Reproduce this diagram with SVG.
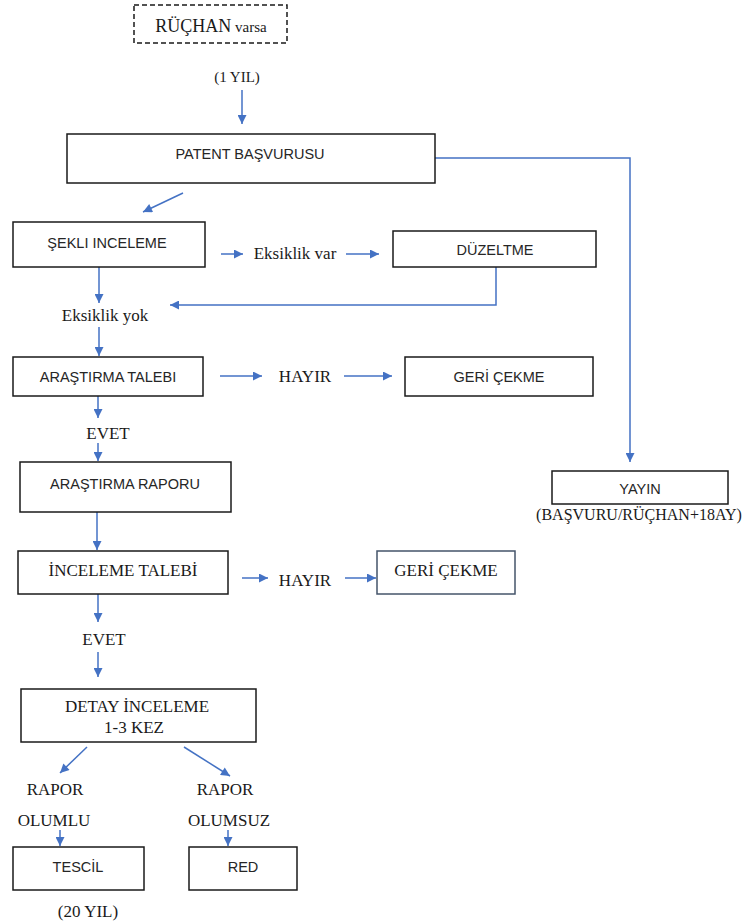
<svg xmlns="http://www.w3.org/2000/svg" width="744" height="924" viewBox="0 0 744 924">
<style>
.box{fill:#fff;stroke:#1a1a1a;stroke-width:1.5}
.box2{fill:#fff;stroke:#44546a;stroke-width:1.5}
.dash{fill:#fff;stroke:#1a1a1a;stroke-width:1.5;stroke-dasharray:5 3}
.sans{font-family:"Liberation Sans",Arial,sans-serif;font-size:14.5px;fill:#262626;text-anchor:middle}
.serif{font-family:"Liberation Serif","Times New Roman",serif;font-size:17px;fill:#1a1a1a;text-anchor:middle}
.con{fill:none;stroke:#4472c4;stroke-width:1.5;marker-end:url(#ah)}
</style>
<defs>
<marker id="ah" viewBox="0 0 10 10" refX="10" refY="5" markerWidth="10" markerHeight="9" markerUnits="userSpaceOnUse" orient="auto">
<path d="M0,0 L10,5 L0,10 z" fill="#4472c4"/>
</marker>
</defs>
<rect width="744" height="924" fill="#fff"/>
<g id="connectors">
<path class="con" d="M242,90 V124"/>
<path class="con" d="M183,193 L143,212"/>
<path class="con" d="M435,158 H630 V462"/>
<path class="con" d="M221,254 H243"/>
<path class="con" d="M346,254 H379"/>
<path class="con" d="M496,267 V305 H170"/>
<path class="con" d="M99,267 V303"/>
<path class="con" d="M99,327 V356"/>
<path class="con" d="M220,376 H262"/>
<path class="con" d="M344,376 H392"/>
<path class="con" d="M98,396 V418"/>
<path class="con" d="M98,443 V461"/>
<path class="con" d="M97,512 V550"/>
<path class="con" d="M242,578 H268"/>
<path class="con" d="M345,578 H376"/>
<path class="con" d="M98,594 V622"/>
<path class="con" d="M98,652 V677"/>
<path class="con" d="M87,747 L60,773"/>
<path class="con" d="M184,747 L230,776"/>
<path class="con" d="M60,830 V846"/>
<path class="con" d="M228,830 V846"/>
</g>
<g id="ruchan">
<rect class="dash" x="134" y="5" width="153" height="38"/>
<text class="serif" x="211" y="32"><tspan style="font-size:18px">RÜÇHAN</tspan><tspan style="font-size:15px"> varsa</tspan></text>
</g>
<g id="bir-yil"><text class="serif" x="237" y="82" style="font-size:15px">(1 YIL)</text></g>
<g id="patent">
<rect class="box" x="67" y="134" width="368" height="49"/>
<text class="sans" x="250" y="159">PATENT BAŞVURUSU</text>
</g>
<g id="yayin">
<rect class="box" x="552" y="471" width="176" height="33"/>
<text class="sans" x="640" y="494">YAYIN</text>
<text class="serif" x="639" y="520" style="font-size:16px">(BAŞVURU/RÜÇHAN+18AY)</text>
</g>
<g id="sekli">
<rect class="box" x="13" y="222" width="192" height="45"/>
<text class="sans" x="107" y="248">ŞEKLI INCELEME</text>
</g>
<g id="eksiklik-var"><text class="serif" x="295" y="259">Eksiklik var</text></g>
<g id="duzeltme">
<rect class="box" x="393" y="231" width="203" height="36"/>
<text class="sans" x="495" y="255">DÜZELTME</text>
</g>
<g id="eksiklik-yok"><text class="serif" x="105" y="321">Eksiklik yok</text></g>
<g id="arastirma-talebi">
<rect class="box" x="13" y="357" width="190" height="39"/>
<text class="sans" x="108" y="382">ARAŞTIRMA TALEBI</text>
</g>
<g id="hayir1"><text class="serif" x="305" y="382">HAYIR</text></g>
<g id="geri-cekme1">
<rect class="box" x="405" y="357" width="188" height="39"/>
<text class="sans" x="499" y="382">GERİ ÇEKME</text>
</g>
<g id="evet1"><text class="serif" x="108" y="439">EVET</text></g>
<g id="arastirma-raporu">
<rect class="box" x="20" y="462" width="211" height="50"/>
<text class="sans" x="125" y="489">ARAŞTIRMA RAPORU</text>
</g>
<g id="inceleme-talebi">
<rect class="box" x="18" y="551" width="210" height="43"/>
<text class="serif" x="123" y="576">İNCELEME TALEBİ</text>
</g>
<g id="hayir2"><text class="serif" x="305" y="586">HAYIR</text></g>
<g id="geri-cekme2">
<rect class="box2" x="377" y="551" width="138" height="43"/>
<text class="serif" x="446" y="576">GERİ ÇEKME</text>
</g>
<g id="evet2"><text class="serif" x="104" y="645">EVET</text></g>
<g id="detay">
<rect class="box" x="21" y="689" width="235" height="53"/>
<text class="serif" x="137" y="712">DETAY İNCELEME</text>
<text class="serif" x="134" y="733">1-3 KEZ</text>
</g>
<g id="rapor-olumlu">
<text class="serif" x="55" y="795">RAPOR</text>
<text class="serif" x="54" y="826">OLUMLU</text>
</g>
<g id="rapor-olumsuz">
<text class="serif" x="225" y="795">RAPOR</text>
<text class="serif" x="229" y="826">OLUMSUZ</text>
</g>
<g id="tescil">
<rect class="box" x="13" y="847" width="131" height="43"/>
<text class="sans" x="78" y="872">TESCİL</text>
</g>
<g id="red">
<rect class="box" x="189" y="847" width="108" height="43"/>
<text class="sans" x="243" y="872">RED</text>
</g>
<g id="yirmi-yil"><text class="serif" x="88" y="917">(20 YIL)</text></g>
</svg>
